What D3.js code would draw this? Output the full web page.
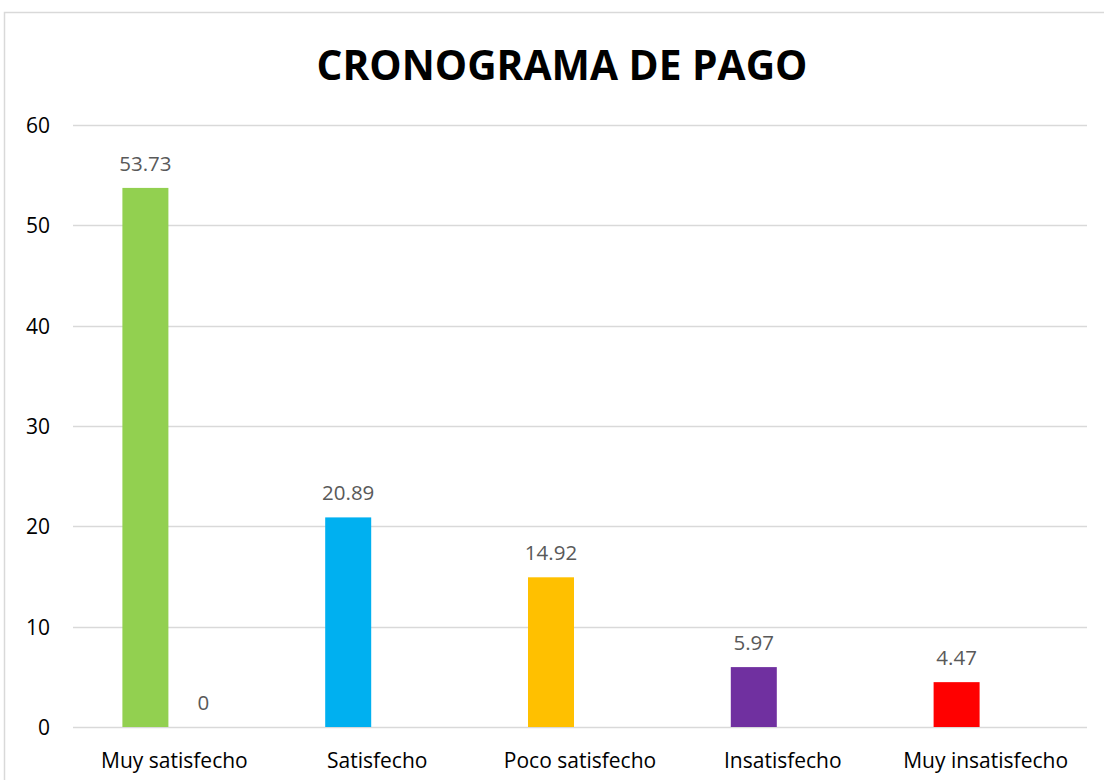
<!DOCTYPE html>
<html>
<head>
<meta charset="utf-8">
<script src="https://cdn.jsdelivr.net/npm/d3@7"></script>
<style>
  html,body{margin:0;padding:0;background:#fff;}
  svg{display:block;}
  text{font-family:"Open Sans","Liberation Sans",sans-serif;}
</style>
</head>
<body>
<svg id="chart" width="1104" height="780"></svg>
<script>
'use strict';

/* data */
const CATEGORIES=['Muy satisfecho','Satisfecho','Poco satisfecho','Insatisfecho','Muy insatisfecho'];
const SERIES_A=[53.73,20.89,14.92,5.97,4.47];
const SERIES_B=[0,null,null,null,null];
const BAR_COLORS=['#92D050','#00B0F0','#FFC000','#7030A0','#FF0000'];
const Y_TICKS=[0,10,20,30,40,50,60];
const TITLE='CRONOGRAMA DE PAGO';

/* layout */
const W=1104,H=780;
const plot={left:73,right:1087,top:125,bottom:727};

const svg=d3.select('#chart');

// outer chart border
svg.append('rect')
  .attr('x',4.5).attr('y',12.5)
  .attr('width',W+20).attr('height',H+20)
  .attr('fill','#fff')
  .attr('stroke','#D9D9D9')
  .attr('stroke-width',1.5);

const x=d3.scaleBand()
  .domain(CATEGORIES)
  .range([plot.left,plot.right])
  .padding(0);

// two bars per category, 46px wide with 12px between
const bw=46,gap=12;
const step=bw+gap;
const pIn=gap/step;
const pOut=(x.bandwidth()/step-(2-pIn))/2;
const xs=d3.scaleBand()
  .domain(['a','b'])
  .range([0,x.bandwidth()])
  .paddingInner(pIn)
  .paddingOuter(pOut);

const y=d3.scaleLinear()
  .domain([0,60])
  .range([plot.bottom,plot.top]);

// gridlines
svg.append('g')
  .selectAll('line')
  .data(Y_TICKS)
  .join('line')
  .attr('x1',plot.left).attr('x2',plot.right)
  .attr('y1',d=>Math.round(y(d))+0.5).attr('y2',d=>Math.round(y(d))+0.5)
  .attr('stroke','#D9D9D9')
  .attr('stroke-width',1.5);

// y axis labels
const yAxis=d3.axisLeft(y).tickValues(Y_TICKS).tickSize(0).tickPadding(0);
const gy=svg.append('g')
  .attr('transform',`translate(50,0)`)
  .call(yAxis);
gy.select('.domain').remove();
gy.selectAll('text')
  .attr('font-family','"Open Sans","Liberation Sans",sans-serif')
  .attr('font-size',21)
  .attr('fill','#000')
  .attr('dy','0.35em');

// bars series A
svg.append('g')
  .selectAll('rect')
  .data(CATEGORIES.map((c,i)=>({c,v:SERIES_A[i],col:BAR_COLORS[i]})))
  .join('rect')
  .attr('x',d=>x(d.c)+xs('a'))
  .attr('width',xs.bandwidth())
  .attr('y',d=>y(d.v))
  .attr('height',d=>y(0)-y(d.v))
  .attr('fill',d=>d.col);

// bars series B (only zero values)
const dataB=CATEGORIES.map((c,i)=>({c,v:SERIES_B[i]})).filter(d=>d.v!==null);
svg.append('g')
  .selectAll('rect')
  .data(dataB)
  .join('rect')
  .attr('x',d=>x(d.c)+xs('b'))
  .attr('width',xs.bandwidth())
  .attr('y',d=>y(d.v))
  .attr('height',d=>y(0)-y(d.v))
  .attr('fill','#A5A5A5');

// value labels
const labelStyle=s=>s
  .attr('text-anchor','middle')
  .attr('font-size',20.5)
  .attr('fill','#595959');

svg.append('g')
  .selectAll('text')
  .data(CATEGORIES.map((c,i)=>({c,v:SERIES_A[i]})))
  .join('text')
  .attr('x',d=>x(d.c)+xs('a')+xs.bandwidth()/2)
  .attr('y',d=>y(d.v)-17)
  .text(d=>d.v)
  .call(labelStyle);

svg.append('g')
  .selectAll('text')
  .data(dataB)
  .join('text')
  .attr('x',d=>x(d.c)+xs('b')+xs.bandwidth()/2)
  .attr('y',d=>y(d.v)-17)
  .text(d=>d.v)
  .call(labelStyle);

// category labels
const xAxis=d3.axisBottom(x).tickSize(0).tickPadding(0);
const gx=svg.append('g')
  .attr('transform',`translate(0,${plot.bottom})`)
  .call(xAxis);
gx.select('.domain').remove();
gx.selectAll('text')
  .attr('font-family','"Open Sans","Liberation Sans",sans-serif')
  .attr('font-size',21)
  .attr('fill','#000')
  .attr('dy',0)
  .attr('y',41);

// title
svg.append('text')
  .attr('x',562)
  .attr('y',80)
  .attr('text-anchor','middle')
  .attr('font-size',41)
  .attr('font-weight','bold')
  .attr('fill','#000')
  .attr('textLength',491)
  .attr('lengthAdjust','spacingAndGlyphs')
  .text(TITLE);
</script>
</body>
</html>
